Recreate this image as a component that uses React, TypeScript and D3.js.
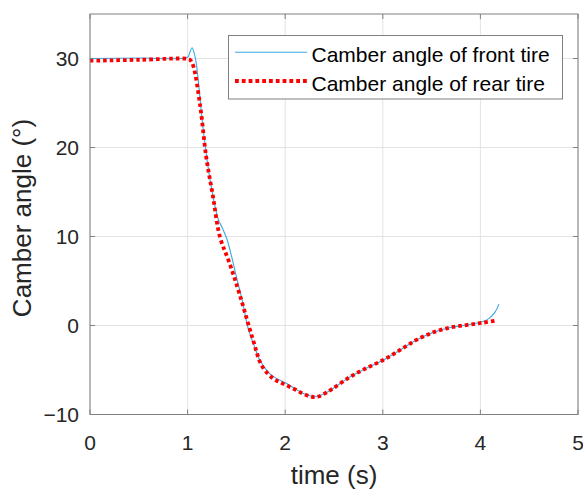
import React from "react";
import * as d3 from "d3";

const frontTime = [0, 0.5, 1.0, 1.02, 1.045, 1.07, 1.09, 1.16, 1.23, 1.315, 1.35, 1.4, 1.45, 1.5, 1.56, 1.62, 1.68, 1.74, 1.84, 1.92, 2.01, 2.1, 2.18, 2.25, 2.3, 2.35, 2.42, 2.49, 2.66, 2.83, 3.0, 3.17, 3.34, 3.51, 3.68, 3.855, 4.02, 4.09, 4.15, 4.19];
const frontAngle = [30.0, 30.05, 30.15, 30.6, 31.2, 30.5, 29.4, 22.0, 16.4, 11.9, 11.1, 9.8, 7.8, 5.5, 2.8, -0.3, -2.2, -3.9, -5.4, -6.0, -6.5, -7.1, -7.6, -7.9, -8.0, -7.9, -7.55, -7.07, -5.8, -4.8, -3.9, -2.8, -1.65, -0.8, -0.25, 0.05, 0.43, 0.8, 1.5, 2.4];

const rearTime = [0, 0.5, 1.0, 1.03, 1.06, 1.13, 1.19, 1.26, 1.33, 1.43, 1.53, 1.67, 1.76, 1.875, 1.97, 2.08, 2.18, 2.25, 2.3, 2.35, 2.42, 2.49, 2.66, 2.83, 3.0, 3.17, 3.34, 3.51, 3.68, 3.855, 4.02, 4.16];
const rearAngle = [29.75, 29.85, 29.95, 29.8, 29.1, 24.6, 19.0, 14.5, 10.0, 7.0, 3.6, -1.6, -4.5, -5.95, -6.5, -7.07, -7.65, -7.95, -8.05, -7.95, -7.55, -7.07, -5.8, -4.8, -3.9, -2.8, -1.65, -0.8, -0.25, 0.05, 0.3, 0.55];

const xTicks = [0, 1, 2, 3, 4, 5];
const yTicks = [-10, 0, 10, 20, 30];
const seriesNames = ["Camber angle of front tire", "Camber angle of rear tire"];
const xLabel = "time (s)";
const yLabel = "Camber angle (°)";

const W = 583, H = 493;
const L = 90, R = 578, T = 14, B = 414.5;
const FONT = "'Liberation Sans', Arial, sans-serif";
const BLUE = "#3ba9e3";
const RED = "#ff0000";
const TXT = "#262626";
const AX = "#808080";

export default function App() {
  const x = d3.scaleLinear().domain([0, 5]).range([L, R]);
  const y = d3.scaleLinear().domain([-10, 35]).range([B, T]);
  const line = d3.line<[number, number]>().x(d => x(d[0])).y(d => y(d[1])).curve(d3.curveCatmullRom.alpha(0.5));
  const front = line(frontTime.map((t, i) => [t, frontAngle[i]]) as [number, number][]) || "";
  const rear = line(rearTime.map((t, i) => [t, rearAngle[i]]) as [number, number][]) || "";
  const fmt = (v: number) => (v < 0 ? "\u2212" + Math.abs(v) : String(v));
  const tl = 5;
  return (
    <svg width={W} height={H} style={{ position: "absolute", left: 0, top: 0, background: "#fff" }} fontFamily={FONT}>
      <rect x={0} y={0} width={W} height={H} fill="#fff" />
      {/* grid */}
      {xTicks.map(t => (
        <line key={"gx" + t} x1={x(t)} x2={x(t)} y1={T} y2={B} stroke="#e3e3e3" strokeWidth={1} />
      ))}
      {yTicks.map(t => (
        <line key={"gy" + t} x1={L} x2={R} y1={y(t)} y2={y(t)} stroke="#e3e3e3" strokeWidth={1} />
      ))}
      {/* ticks */}
      {xTicks.map(t => (
        <g key={"tx" + t}>
          <line x1={x(t)} x2={x(t)} y1={B} y2={B - tl} stroke={AX} />
          <line x1={x(t)} x2={x(t)} y1={T} y2={T + tl} stroke={AX} />
        </g>
      ))}
      {yTicks.map(t => (
        <g key={"ty" + t}>
          <line x1={L} x2={L + tl} y1={y(t)} y2={y(t)} stroke={AX} />
          <line x1={R} x2={R - tl} y1={y(t)} y2={y(t)} stroke={AX} />
        </g>
      ))}
      {/* data */}
      <path d={front} fill="none" stroke={BLUE} strokeWidth={1.1} />
      <path d={rear} fill="none" stroke={RED} strokeWidth={3.8} strokeDasharray="3.6,3" />
      {/* frame */}
      <rect x={L} y={T} width={R - L} height={B - T} fill="none" stroke={AX} strokeWidth={1} />
      {/* tick labels */}
      {xTicks.map(t => (
        <text key={"lx" + t} x={x(t)} y={450} textAnchor="middle" fontSize={21} fill={TXT}>{fmt(t)}</text>
      ))}
      {yTicks.map(t => (
        <text key={"ly" + t} x={79} y={y(t)} dy="0.36em" textAnchor="end" fontSize={21} fill={TXT}>{fmt(t)}</text>
      ))}
      {/* axis labels */}
      <text x={(L + R) / 2} y={484} textAnchor="middle" fontSize={26} fill={TXT}>{xLabel}</text>
      <text transform={`translate(31,218) rotate(-90)`} textAnchor="middle" fontSize={26} fill={TXT}>{yLabel}</text>
      {/* legend */}
      <rect x={228.5} y={35.5} width={334} height={63.5} fill="#fff" stroke="#808080" strokeWidth={1} />
      <line x1={235} x2={307} y1={52.3} y2={52.3} stroke={BLUE} strokeWidth={1.1} />
      <line x1={235} x2={307} y1={81} y2={81} stroke={RED} strokeWidth={3.8} strokeDasharray="3.8,3" />
      <text x={311.5} y={62} fontSize={21} fill="#000">{seriesNames[0]}</text>
      <text x={311.5} y={90.5} fontSize={21} fill="#000">{seriesNames[1]}</text>
    </svg>
  );
}
